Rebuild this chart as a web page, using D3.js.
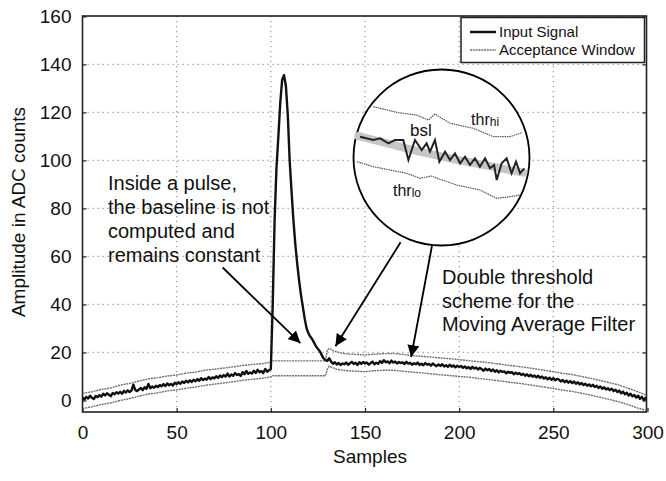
<!DOCTYPE html>
<html><head><meta charset="utf-8">
<script src="https://cdn.jsdelivr.net/npm/d3@7"></script>
<style>
html,body{margin:0;padding:0;background:#fff;}
svg text{font-family:"Liberation Sans",Arial,Helvetica,sans-serif;fill:#111;}
</style></head>
<body><svg id="c" width="666" height="481"></svg>
<script>
// ---------- data ----------
const xTicks = [0, 50, 100, 150, 200, 250, 300];
const yTicks = [0, 20, 40, 60, 80, 100, 120, 140, 160];
const legendLabels = ["Input Signal", "Acceptance Window"];

// Input signal, one value per sample 0..300
const signal = [
  1.2,0.4,1.5,0.8,2.0,1.1,0.6,1.9,1.4,2.2,
  1.6,2.8,2.1,3.0,2.4,1.8,3.1,2.6,3.4,2.9,
  3.6,2.8,4.0,3.3,4.2,3.5,4.1,6.6,4.4,3.9,
  4.6,5.2,4.3,5.5,4.9,6.9,5.1,5.8,5.3,6.1,
  5.6,6.4,5.9,6.8,6.0,7.1,6.3,6.9,6.2,7.4,
  6.8,7.6,7.0,7.9,7.3,8.2,7.5,8.4,7.7,8.6,
  8.0,8.9,8.2,9.3,8.5,9.1,8.7,9.8,8.9,9.6,
  9.2,10.1,9.4,10.4,9.7,10.6,9.9,11.2,10.0,10.8,
  10.3,11.4,10.6,11.0,10.2,11.8,10.9,12.3,11.1,11.7,
  11.2,12.4,11.5,12.8,11.8,12.2,11.4,13.1,12.0,12.6,
  13.0,40,75,97,110,124,133.5,135.5,131,119,
  100,87,75,65,57,50,44,39,34,30,
  28,26.5,25.5,24,22.5,21.5,20.5,19,17.5,16.8,
  16.5,17.6,16.2,15.3,15.9,15.0,15.6,14.8,15.4,15.1,
  15.8,14.9,15.5,16.1,15.2,15.7,14.8,15.9,15.3,16.0,
  15.4,15.8,14.9,15.6,16.2,15.1,15.7,15.3,16.4,15.6,
  16.8,15.9,16.3,15.5,16.6,15.8,16.2,15.4,16.0,15.6,
  15.9,15.2,16.1,15.4,15.7,14.9,15.5,15.1,15.8,14.8,
  15.3,14.7,15.6,14.9,15.2,14.5,15.4,14.8,14.3,15.0,
  14.4,15.1,14.2,14.7,14.0,14.9,14.1,14.6,13.8,14.5,
  13.9,14.4,13.6,14.2,13.4,13.9,13.1,14.0,13.3,13.7,
  12.9,13.6,13.0,12.4,13.3,12.6,13.1,12.2,12.9,12.0,
  12.6,11.7,12.4,11.9,12.1,11.3,12.0,11.5,11.8,10.9,
  11.6,11.0,11.4,10.6,11.1,10.3,10.9,10.1,10.7,9.9,
  10.4,9.6,10.3,9.4,10.0,9.1,9.7,8.8,9.5,8.6,
  9.3,8.4,9.0,8.7,7.9,8.5,7.6,8.3,7.4,8.1,
  7.2,7.9,7.0,7.6,6.7,7.3,6.4,7.0,6.1,6.7,
  5.9,6.5,5.6,6.1,5.2,5.8,4.9,5.5,4.6,5.1,
  4.3,4.9,3.9,4.5,3.5,4.1,3.0,3.7,2.6,3.2,
  2.1,2.8,1.7,2.3,1.2,2.0,0.7,1.5,0.2,1.1,
  0.3
];

// Acceptance window (upper / lower threshold)
const winX  = [0,5,10,15,20,25,30,35,40,45,50,55,60,65,70,75,80,85,90,95,100,101,129,130,131,133,135,140,145,150,155,160,165,170,175,180,185,190,195,200,205,210,215,220,225,230,235,240,245,250,255,260,265,270,275,280,285,290,295,300];
const winHi = [3.0,3.6,4.6,5.2,6.4,7.1,8.1,9.0,9.5,10.2,10.6,11.4,11.8,12.6,13.0,13.5,14.0,14.6,15.0,15.3,16.0,16.5,16.5,21.0,21.7,20.8,20.2,19.4,19.2,19.0,19.3,19.5,19.6,19.2,18.7,18.4,18.1,17.7,17.4,17.0,16.6,16.2,15.8,15.3,14.8,14.3,13.8,13.2,12.6,12.0,11.3,10.8,10.0,9.2,8.3,7.4,6.4,5.0,3.6,2.0];
const winLo = [-3.4,-2.6,-1.7,-1.0,0.0,0.8,1.8,2.7,3.2,4.0,4.4,5.1,5.6,6.3,6.8,7.3,7.8,8.4,8.8,9.2,9.8,10.3,10.3,13.0,14.3,13.6,13.0,12.4,12.2,12.0,12.4,12.6,12.6,12.2,11.8,11.5,11.1,10.7,10.4,10.0,9.7,9.2,8.8,8.3,7.8,7.3,6.8,6.2,5.6,5.0,4.3,3.8,3.0,2.2,1.3,0.4,-0.6,-1.8,-3.2,-4.2];

// Magnified inset (relative units 0..100)
const insSigU = [4,11.5,15.3,20,23.7,28.4,31.3,35,38.8,41.6,43.5,46.3,48.8,52,54.8,57.6,60.5,63.3,66.1,68.9,71.7,74.6,77.4,79.7,81.2,84,86.8,89.6,92.1,94.4,96.8];
const insSigV = [63.3,60,61.7,56.7,60,60,40,60,50,56.7,48.3,60,38.3,48.3,40,46.7,36.7,43.3,35,41.7,33.3,41.7,31.7,35,20,36.7,41.7,26.7,38.3,26.7,31.7];
const insBslU = [3,20.9,39.7,58.5,77.4,96.2];
const insBslV = [64,56,47.3,40,34,27.3];
const insHiU = [11.5,25.6,35.9,42.6,46.3,54.8,68,79.3,88.7,95.3];
const insHiV = [93.3,87.3,85,80,86,76.7,71.7,63.3,63.3,67.3];
const insLoU = [2.4,11.5,20.9,30.3,37.8,44.4,49.1,58.5,71.7,81.2,88.7,94.4];
const insLoV = [38.3,33.3,30,26.7,21.7,24,20.7,15,10,1.7,3.3,5];

// Annotation texts and arrows (data coordinates)
const noteLeft  = ["Inside a pulse,", "the baseline is not", "computed and", "remains constant"];
const noteRight = ["Double threshold", "scheme for the", "Moving Average Filter"];
const arrows = [
  {x0: 74.4,  y0: 55.4, x1: 115.7, y1: 23.9},
  {x0: 168.9, y0: 65.9, x1: 134.3, y1: 22.6},
  {x0: 185.6, y0: 64.6, x1: 174.5, y1: 18.1}
];

// ---------- drawing ----------
const svg = d3.select("#c");
const L = 82.5, R = 646.5, T = 16, B = 412;
const x = d3.scaleLinear().domain([0, 300]).range([L, 647.5]);
const y = d3.scaleLinear().domain([-4.8, 160]).range([B, T + 0.4]);

const defs = svg.append("defs");
defs.append("clipPath").attr("id","clip").append("rect")
  .attr("x", L).attr("y", T).attr("width", R - L).attr("height", B - T);
defs.append("marker").attr("id","ah").attr("viewBox","0 0 10 10")
  .attr("refX", 10).attr("refY", 5).attr("markerWidth", 12).attr("markerHeight", 12)
  .attr("markerUnits","userSpaceOnUse").attr("orient","auto")
  .append("path").attr("d","M0,0L10,5L0,10z").attr("fill","#000");

// grid
const grid = svg.append("g").attr("stroke","#9a9a9a").attr("stroke-width",1.2).attr("stroke-dasharray","1.3,3.7");
grid.selectAll(".gx").data(xTicks.slice(1, -1)).join("line")
  .attr("x1", d => x(d)).attr("x2", d => x(d)).attr("y1", T).attr("y2", B);
grid.selectAll(".gy").data(yTicks.slice(1)).join("line")
  .attr("x1", L).attr("x2", R).attr("y1", d => y(d)).attr("y2", d => y(d));

// axes (inward ticks, mirrored)
const ax = svg.append("g");
ax.append("g").attr("transform", `translate(0,${B})`)
  .call(d3.axisBottom(x).tickValues(xTicks).tickSize(-4).tickPadding(14).tickFormat(d3.format("d")));
ax.append("g").attr("transform", `translate(${L},0)`)
  .call(d3.axisLeft(y).tickValues(yTicks).tickSize(-4).tickPadding(11).tickFormat(d3.format("d")));
ax.append("g").attr("transform", `translate(${R},0)`)
  .call(d3.axisRight(y).tickValues(yTicks).tickSize(-4).tickFormat(""));
ax.selectAll(".domain").remove();
ax.selectAll("line").attr("stroke","#222").attr("stroke-width",1.2);
ax.selectAll("text").attr("font-size", 19).attr("fill","#111");

// frame
svg.append("rect").attr("x", L).attr("y", T).attr("width", R - L).attr("height", B - T)
  .attr("fill","none").attr("stroke","#222").attr("stroke-width",1.6);

const plot = svg.append("g").attr("clip-path","url(#clip)");
const winIdx = d3.range(winX.length);
const lineW = d3.line().x(i => x(winX[i]));
plot.append("path").attr("d", lineW.y(i => y(winHi[i]))(winIdx))
  .attr("fill","none").attr("stroke","#6e6e6e").attr("stroke-width",1.4).attr("stroke-dasharray","2,0.8");
plot.append("path").attr("d", lineW.y(i => y(winLo[i]))(winIdx))
  .attr("fill","none").attr("stroke","#6e6e6e").attr("stroke-width",1.4).attr("stroke-dasharray","2,0.8");
plot.append("path").attr("d", d3.line().x((d, i) => x(i)).y(d => y(d))(signal))
  .attr("fill","none").attr("stroke","#111").attr("stroke-width",2.4).attr("stroke-linejoin","round");

// legend
const lg = svg.append("g");
lg.append("rect").attr("x", 461).attr("y", T + 1.5).attr("width", 183.5).attr("height", 45)
  .attr("fill","#fff").attr("stroke","#222").attr("stroke-width",1.5);
lg.append("line").attr("x1", 470).attr("x2", 496).attr("y1", 32).attr("y2", 32)
  .attr("stroke","#111").attr("stroke-width",2.5);
lg.append("line").attr("x1", 470).attr("x2", 496).attr("y1", 50).attr("y2", 50)
  .attr("stroke","#6e6e6e").attr("stroke-width",1.3).attr("stroke-dasharray","2,0.8");
lg.selectAll("text").data(legendLabels).join("text")
  .attr("x", 499).attr("y", (d, i) => 37 + i * 18).attr("font-size", 15).text(d => d);

// axis titles
svg.append("text").attr("x", 370).attr("y", 463).attr("text-anchor","middle").attr("font-size", 19).text("Samples");
svg.append("text").attr("transform","translate(25,212) rotate(-90)").attr("text-anchor","middle")
  .attr("font-size", 19).text("Amplitude in ADC counts");

// arrows
svg.append("g").selectAll("line").data(arrows).join("line")
  .attr("x1", d => x(d.x0)).attr("y1", d => y(d.y0)).attr("x2", d => x(d.x1)).attr("y2", d => y(d.y1))
  .attr("stroke","#000").attr("stroke-width",1.8).attr("marker-end","url(#ah)");

// magnifier circle
const cx = 441.5, cy = 157.5, cr = 88;
svg.append("circle").attr("cx", cx).attr("cy", cy).attr("r", cr)
  .attr("fill","#fff").attr("stroke","#000").attr("stroke-width",1.8);
const iu = d3.scaleLinear().domain([0, 100]).range([353, 530]);
const iv = d3.scaleLinear().domain([0, 100]).range([200, 100]);
const ins = svg.append("g");
ins.append("path").attr("d", d3.line().x((d,i)=>iu(insBslU[i])).y(d=>iv(d)).curve(d3.curveBasis)(insBslV))
  .attr("fill","none").attr("stroke","#c6c6c6").attr("stroke-width",8).attr("stroke-linecap","round");
ins.append("path").attr("d", d3.line().x((d,i)=>iu(insHiU[i])).y(d=>iv(d))(insHiV))
  .attr("fill","none").attr("stroke","#555").attr("stroke-width",1.2).attr("stroke-dasharray","1.5,0.8");
ins.append("path").attr("d", d3.line().x((d,i)=>iu(insLoU[i])).y(d=>iv(d))(insLoV))
  .attr("fill","none").attr("stroke","#555").attr("stroke-width",1.2).attr("stroke-dasharray","1.5,0.8");
ins.append("path").attr("d", d3.line().x((d,i)=>iu(insSigU[i])).y(d=>iv(d))(insSigV))
  .attr("fill","none").attr("stroke","#222").attr("stroke-width",2).attr("stroke-linejoin","miter");
const thrHi = ins.append("text").attr("x", iu(66.7)).attr("y", iv(75)).attr("font-size", 16);
thrHi.append("tspan").text("thr");
thrHi.append("tspan").attr("font-size", 12).attr("dy", 1).text("hi");
ins.append("text").attr("x", iu(32.2)).attr("y", iv(64)).attr("font-size", 17).text("bsl");
const thrLo = ins.append("text").attr("x", iu(22.6)).attr("y", iv(4)).attr("font-size", 16);
thrLo.append("tspan").text("thr");
thrLo.append("tspan").attr("font-size", 12).attr("dy", 1).text("lo");

// notes
svg.append("g").selectAll("text").data(noteLeft).join("text")
  .attr("x", 108).attr("y", (d, i) => 190 + i * 24).attr("font-size", 20).text(d => d);
svg.append("g").selectAll("text").data(noteRight).join("text")
  .attr("x", 442).attr("y", (d, i) => 284 + i * 23.5).attr("font-size", 20).text(d => d);
</script></body></html>
